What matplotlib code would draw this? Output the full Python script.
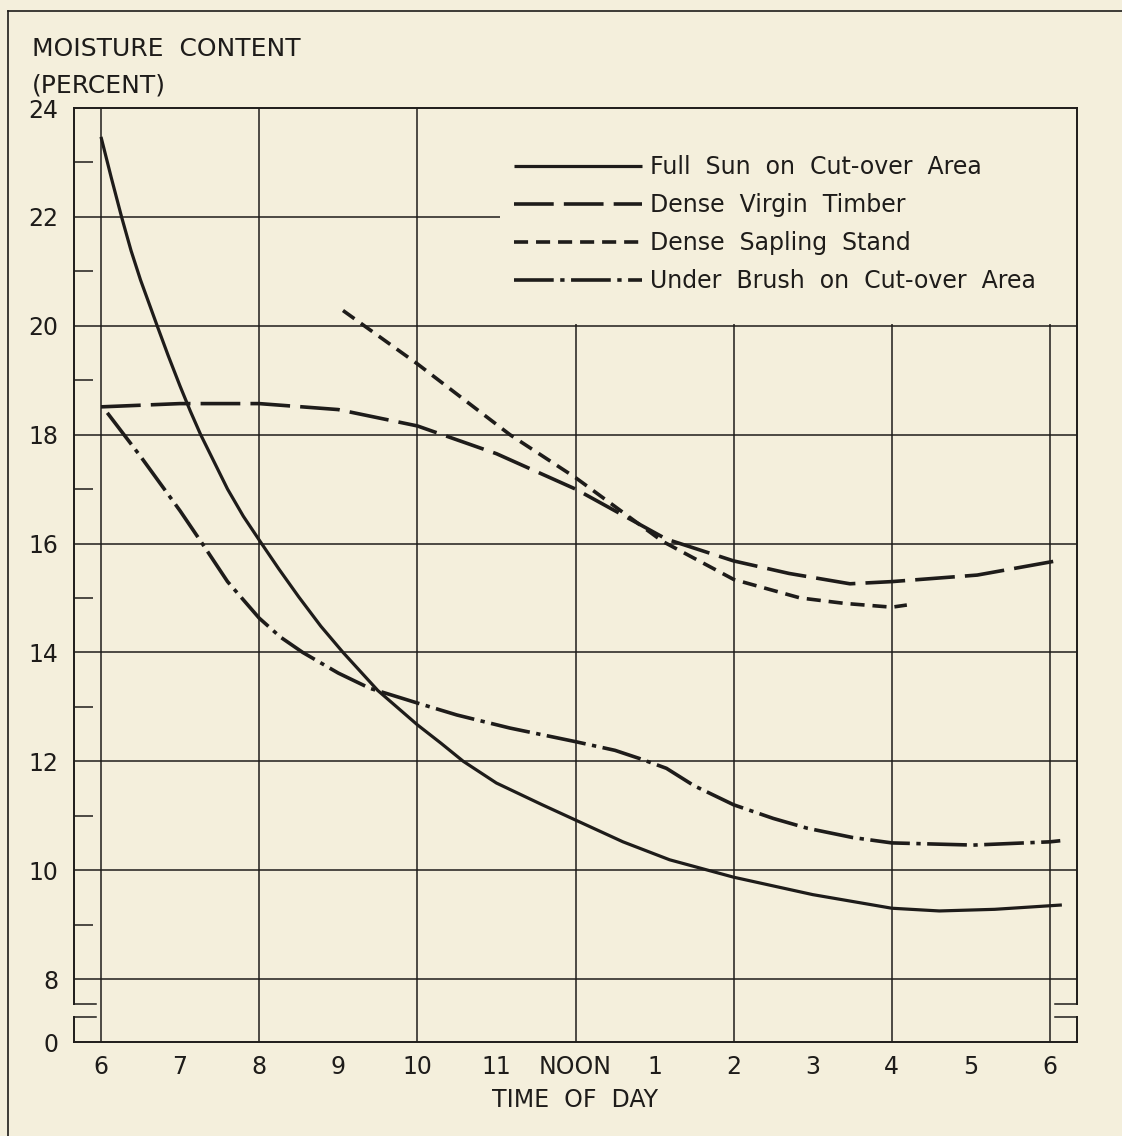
import matplotlib
matplotlib.use("Agg")
import matplotlib.pyplot as plt
from matplotlib.lines import Line2D
from matplotlib.patches import Rectangle

# hours of day (6 = 6 a.m., 18 = 6 p.m.) and moisture content (percent)
sun_hours = [6.0, 6.13, 6.26, 6.38, 6.5, 6.71, 6.85, 7.0, 7.13, 7.26, 7.6, 7.8, 8.03, 8.25,
             8.5, 8.78, 9.06, 9.5, 10.0, 10.3, 10.58, 11.0, 11.58, 12.0, 12.6, 13.19, 14.0,
             15.0, 16.0, 16.6, 17.3, 18.15]
sun_pct = [23.47, 22.72, 22.0, 21.38, 20.84, 20.0, 19.45, 18.89, 18.43, 18.0, 17.0, 16.5,
           16.0, 15.53, 15.02, 14.48, 14.0, 13.3, 12.67, 12.33, 12.0, 11.6, 11.2, 10.92,
           10.52, 10.19, 9.87, 9.55, 9.30, 9.25, 9.28, 9.36]

timber_hours = [6.0, 7.0, 8.0, 9.0, 10.0, 11.0, 12.0, 13.15, 14.0, 14.7, 15.47,
                16.0, 17.08, 18.0, 18.15]
timber_pct = [18.51, 18.57, 18.57, 18.46, 18.16, 17.65, 17.0, 16.08, 15.68, 15.45, 15.26,
              15.30, 15.42, 15.66, 15.70]

sapling_hours = [9.06, 10.0, 11.17, 12.0, 13.1, 14.0, 14.84, 15.4, 16.0, 16.19]
sapling_pct = [20.28, 19.30, 18.0, 17.21, 16.04, 15.34, 15.0, 14.9, 14.83, 14.87]

brush_hours = [6.08, 6.5, 7.0, 7.28, 7.6, 8.0, 8.27, 8.55, 9.0, 9.4, 10.0, 10.5, 11.17, 12.0,
               12.5, 12.81, 13.15, 13.5, 14.0, 14.5, 14.93, 15.5, 16.0, 17.03, 18.0, 18.13]
brush_pct = [18.4, 17.6, 16.6, 16.0, 15.3, 14.63, 14.28, 14.0, 13.62, 13.34, 13.07, 12.85, 12.61,
             12.36, 12.2, 12.05, 11.87, 11.55, 11.2, 10.95, 10.77, 10.6, 10.50, 10.46, 10.52, 10.54]

hour_ticks = list(range(6, 19))
hour_labels = ["6", "7", "8", "9", "10", "11", "NOON", "1", "2", "3", "4", "5", "6"]
pct_ticks = [8, 10, 12, 14, 16, 18, 20, 22, 24]
grid_hours = [6, 8, 10, 12, 14, 16, 18]
grid_pct = [8, 10, 12, 14, 16, 18, 20, 22]

labels = ["Full  Sun  on  Cut-over  Area", "Dense  Virgin  Timber",
          "Dense  Sapling  Stand", "Under  Brush  on  Cut-over  Area"]

bg = "#f4efdc"
ink = "#1e1c1a"
W, H = 1122, 1136

plt.rcParams["font.family"] = ["DejaVu Sans"]
fig = plt.figure(figsize=(W / 100, H / 100), dpi=100, facecolor=bg)

# axes frame in pixels: left 74, right 1077, top 108, bottom 1042
ax = fig.add_axes([74 / W, 1 - 1042 / H, (1077 - 74) / W, (1042 - 108) / H])
ax.set_facecolor(bg)

xmin, xmax = 6 - 27 / 79.08, 18 + 27 / 79.08
ymin, ymax = 8 - 63 / 54.44, 24
ax.set_xlim(xmin, xmax)
ax.set_ylim(ymin, ymax)

# grid
ax.vlines(grid_hours, ymin, ymax, color=ink, lw=1.1, zorder=1.2)
ax.hlines(grid_pct, xmin, xmax, color=ink, lw=1.1, zorder=1.2)
# blank region behind the key
ax.add_patch(Rectangle((11.05, 20.03), xmax - 11.05, 4, facecolor=bg,
                       edgecolor="none", zorder=1.5))

lw = 2.6
ax.plot(sun_hours, sun_pct, color=ink, lw=2.3, solid_capstyle="butt",
        solid_joinstyle="round", label=labels[0], zorder=3)
ax.plot(timber_hours, timber_pct, color=ink, lw=lw, ls=(0, (11, 2.8)),
        label=labels[1], zorder=3)
ax.plot(sapling_hours, sapling_pct, color=ink, lw=lw, ls=(0, (3.9, 2.2)),
        label=labels[2], zorder=3)
ax.plot(brush_hours, brush_pct, color=ink, lw=lw, ls=(0, (11, 1.8, 1.2, 1.8)),
        label=labels[3], zorder=3)

# ticks
ax.set_xticks(hour_ticks, hour_labels)
ax.set_xticks([7, 9, 11, 13, 15, 17], minor=True)
ax.set_yticks([ymin] + pct_ticks, ["0"] + [str(v) for v in pct_ticks])
ax.set_yticks(list(range(9, 24, 2)), minor=True)
ax.tick_params(which="major", length=0, labelsize=17, colors=ink)
ax.tick_params(axis="x", which="major", pad=9)
ax.tick_params(axis="y", which="major", pad=11)
ax.tick_params(which="minor", direction="in", length=14, width=1.1, color=ink)

# frame with broken vertical axis
for s in ["left", "right"]:
    ax.spines[s].set_visible(False)
for s in ["top", "bottom"]:
    ax.spines[s].set_linewidth(1.4)
    ax.spines[s].set_color(ink)
brk_hi, brk_lo = 7.535, 7.296
tr = ax.get_yaxis_transform()
seg = 22 / 1003
ax.plot([0, 0], [ymax, brk_hi], color=ink, lw=1.4, transform=tr, clip_on=False)
ax.plot([0, seg], [brk_hi, brk_hi], color=ink, lw=1.1, transform=tr, clip_on=False)
ax.plot([0, seg], [brk_lo, brk_lo], color=ink, lw=1.1, transform=tr, clip_on=False)
ax.plot([0, 0], [brk_lo, ymin], color=ink, lw=1.4, transform=tr, clip_on=False)
ax.plot([1, 1], [ymax, brk_hi], color=ink, lw=1.4, transform=tr, clip_on=False)
ax.plot([1, 1 - seg], [brk_hi, brk_hi], color=ink, lw=1.1, transform=tr, clip_on=False)
ax.plot([1, 1 - seg], [brk_lo, brk_lo], color=ink, lw=1.1, transform=tr, clip_on=False)
ax.plot([1, 1], [brk_lo, ymin], color=ink, lw=1.4, transform=tr, clip_on=False)

ax.set_xlabel("TIME  OF  DAY", fontsize=17, color=ink, labelpad=7)

fig.text(32 / W, 1 - 49 / H, "MOISTURE  CONTENT", fontsize=18, color=ink, va="center")
fig.text(32 / W, 1 - 86 / H, "(PERCENT)", fontsize=18, color=ink, va="center")

leg = ax.legend(loc="upper left", bbox_to_anchor=(514 / W, 1 - 155 / H),
                bbox_transform=fig.transFigure, frameon=False, fontsize=17,
                handlelength=5.4, handletextpad=0.34, labelspacing=0.6,
                borderpad=0, borderaxespad=0)
for t in leg.get_texts():
    t.set_color(ink)

# outer border of the plate
fig.add_artist(Line2D([8 / W, 8 / W], [0, 1 - 10.7 / H], color=ink, lw=1.2))
fig.add_artist(Line2D([8 / W, 1], [1 - 10.7 / H, 1 - 10.7 / H], color=ink, lw=1.2))

fig.savefig("out.png", dpi=100, facecolor=bg)
